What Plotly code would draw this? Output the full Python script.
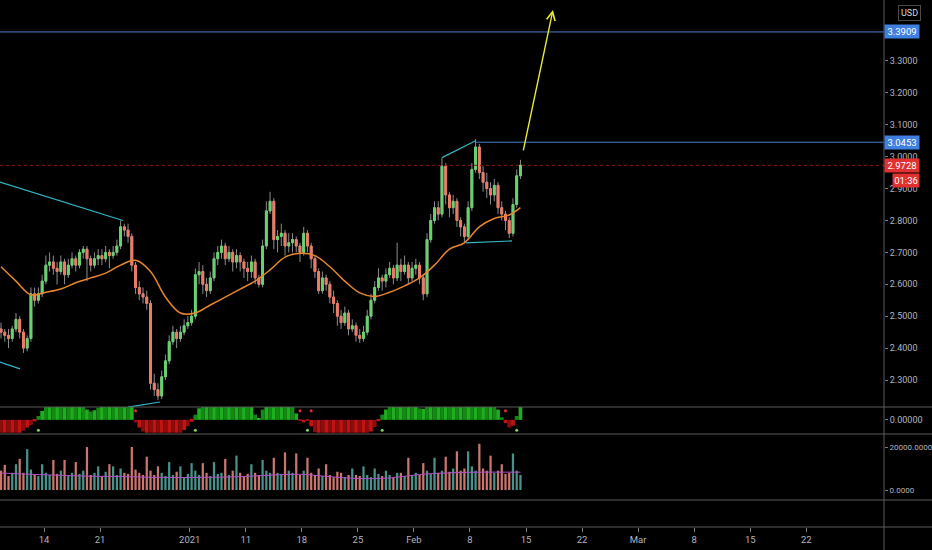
import pandas as pd
import plotly.graph_objects as go

# --- session calendar (weekends + Christmas / New Year are not traded) ---
holidays = ["2020-12-25", "2021-01-01"]
days = [d for d in pd.bdate_range("2020-12-08", "2021-02-12")
        if d.strftime("%Y-%m-%d") not in holidays]
times = [d + pd.Timedelta(hours=h) for d in days for h in (4, 12, 20)][:140]

# --- 8h candles ---
first_open = 2.46
closes = [2.45, 2.44, 2.43, 2.46, 2.49, 2.45, 2.40, 2.43, 2.57, 2.55,
          2.57, 2.61, 2.66, 2.67, 2.65, 2.64, 2.67, 2.63, 2.66, 2.68,
          2.66, 2.70, 2.71, 2.68, 2.66, 2.68, 2.69, 2.68, 2.70, 2.69,
          2.70, 2.72, 2.78, 2.77, 2.75, 2.66, 2.59, 2.57, 2.56, 2.54,
          2.29, 2.27, 2.25, 2.31, 2.36, 2.42, 2.45, 2.43, 2.45, 2.47,
          2.48, 2.50, 2.63, 2.64, 2.60, 2.58, 2.62, 2.68, 2.70, 2.72,
          2.68, 2.70, 2.67, 2.69, 2.67, 2.65, 2.64, 2.67, 2.62, 2.60,
          2.72, 2.83, 2.86, 2.74, 2.75, 2.76, 2.72, 2.73, 2.74, 2.72,
          2.70, 2.76, 2.72, 2.68, 2.64, 2.58, 2.62, 2.60, 2.56, 2.54,
          2.50, 2.48, 2.51, 2.46, 2.47, 2.44, 2.43, 2.45, 2.50, 2.55,
          2.59, 2.62, 2.61, 2.63, 2.65, 2.62, 2.66, 2.64, 2.66, 2.62,
          2.65, 2.66, 2.62, 2.57, 2.74, 2.80, 2.84, 2.82, 2.97, 2.88,
          2.84, 2.86, 2.80, 2.78, 2.75, 2.84, 2.96, 3.03, 2.95, 2.92,
          2.90, 2.88, 2.91, 2.84, 2.82, 2.80, 2.76, 2.85, 2.94, 2.973]
highs = [2.48, 2.46, 2.46, 2.47, 2.51, 2.50, 2.46, 2.44, 2.59, 2.59,
         2.59, 2.63, 2.69, 2.70, 2.69, 2.67, 2.69, 2.68, 2.68, 2.70,
         2.69, 2.71, 2.72, 2.72, 2.69, 2.70, 2.71, 2.71, 2.72, 2.71,
         2.72, 2.74, 2.80, 2.79, 2.79, 2.76, 2.67, 2.61, 2.59, 2.58,
         2.55, 2.32, 2.29, 2.33, 2.38, 2.44, 2.47, 2.46, 2.47, 2.49,
         2.50, 2.52, 2.65, 2.67, 2.66, 2.62, 2.64, 2.70, 2.72, 2.74,
         2.73, 2.72, 2.71, 2.71, 2.70, 2.68, 2.67, 2.69, 2.68, 2.63,
         2.74, 2.86, 2.89, 2.87, 2.77, 2.79, 2.77, 2.76, 2.76, 2.75,
         2.73, 2.78, 2.77, 2.73, 2.69, 2.65, 2.64, 2.63, 2.61, 2.58,
         2.55, 2.52, 2.53, 2.52, 2.49, 2.48, 2.46, 2.47, 2.52, 2.57,
         2.61, 2.65, 2.63, 2.65, 2.67, 2.66, 2.73, 2.68, 2.69, 2.67,
         2.67, 2.68, 2.67, 2.63, 2.76, 2.82, 2.86, 2.86, 2.996, 2.98,
         2.89, 2.88, 2.87, 2.81, 2.79, 2.86, 2.98, 3.055, 3.04, 2.97,
         2.95, 2.92, 2.93, 2.92, 2.86, 2.83, 2.81, 2.87, 2.96, 2.99]
lows = [2.43, 2.42, 2.40, 2.42, 2.45, 2.43, 2.385, 2.39, 2.42, 2.53,
        2.54, 2.56, 2.60, 2.64, 2.63, 2.60, 2.63, 2.60, 2.62, 2.65,
        2.64, 2.65, 2.68, 2.61, 2.64, 2.65, 2.66, 2.66, 2.67, 2.65,
        2.68, 2.69, 2.71, 2.75, 2.73, 2.64, 2.57, 2.55, 2.54, 2.52,
        2.27, 2.25, 2.237, 2.24, 2.30, 2.35, 2.41, 2.40, 2.42, 2.44,
        2.46, 2.47, 2.49, 2.60, 2.57, 2.56, 2.57, 2.61, 2.66, 2.68,
        2.66, 2.67, 2.64, 2.65, 2.64, 2.62, 2.61, 2.62, 2.60, 2.59,
        2.59, 2.71, 2.82, 2.71, 2.70, 2.72, 2.69, 2.70, 2.70, 2.70,
        2.67, 2.69, 2.70, 2.65, 2.62, 2.57, 2.57, 2.58, 2.54, 2.51,
        2.47, 2.46, 2.47, 2.44, 2.45, 2.42, 2.416, 2.42, 2.44, 2.49,
        2.54, 2.58, 2.58, 2.59, 2.62, 2.60, 2.61, 2.61, 2.63, 2.60,
        2.61, 2.63, 2.60, 2.55, 2.56, 2.73, 2.79, 2.80, 2.81, 2.85,
        2.81, 2.82, 2.78, 2.75, 2.73, 2.74, 2.83, 2.95, 2.93, 2.89,
        2.87, 2.85, 2.86, 2.82, 2.80, 2.77, 2.745, 2.75, 2.84, 2.93]
opens = [first_open] + closes[:-1]

# moving average (sampled every 4 candles)
ma_idx = [0, 4, 8, 12, 16, 20, 24, 28, 32, 36, 40, 44, 48, 52, 56, 60, 64, 68,
          72, 76, 80, 84, 88, 92, 96, 100, 104, 108, 112, 116, 120, 124, 128,
          132, 136, 139]
ma_vals = [2.655, 2.61, 2.567, 2.575, 2.585, 2.605, 2.62, 2.635, 2.66, 2.675,
           2.64, 2.56, 2.51, 2.51, 2.535, 2.56, 2.585, 2.61, 2.645, 2.685,
           2.697, 2.69, 2.655, 2.61, 2.573, 2.562, 2.575, 2.595, 2.62, 2.66,
           2.71, 2.73, 2.78, 2.806, 2.817, 2.84]

# oscillator histogram
osc = [-1, -1, -1, -1, -1, -1, -0.85, -0.6, -0.4, -0.12,
       0.3, 0.7, 1, 1, 1, 1, 1, 1, 1, 1,
       1, 1, 1, 0.8, 0.65, 0.75, 0.95, 1, 1, 1,
       1, 1, 1, 1, 1, 1, -0.2, -0.6, -0.9, -1,
       -1, -1, -1, -1, -1, -1, -1, -1, -1, -0.8,
       -0.5, -0.15, 0.4, 0.9, 1, 1, 1, 1, 1, 1,
       1, 1, 1, 1, 1, 1, 1, 1, 0.4, 0.1,
       0.8, 1, 1, 1, 1, 1, 1, 1, 1, 0.5,
       -0.1, -0.2, -0.05, -0.5, -0.95, -1, -1, -1, -1, -1,
       -1, -1, -1, -1, -1, -1, -1, -1, -1, -0.9,
       -0.55, -0.1, 0.4, 0.8, 1, 1, 1, 1, 1, 1,
       1, 1, 0.9, 0.85, 1, 1, 1, 1, 1, 1,
       1, 1, 1, 1, 1, 1, 1, 1, 1, 1,
       1, 1, 1, 0.8, 0.2, -0.25, -0.6, -0.45, 0.3, 1]
green_dots = [10, 52, 82, 102, 138]
red_dots = [36, 80, 83, 135]

# volume
volume = [9000, 11700, 6500, 8000, 12000, 14500, 8000, 19000, 9500, 7000,
          6500, 12000, 8000, 7000, 14000, 7500, 9000, 14000, 6500, 8000,
          13000, 7500, 9000, 20000, 7000, 8000, 11000, 6500, 8500, 12000,
          11000, 7000, 10000, 8000, 7500, 20000, 9500, 8000, 7000, 15500,
          9000, 7000, 11000, 8000, 6500, 13000, 7000, 8500, 11000, 6000,
          7500, 12500, 9000, 7000, 12500, 8000, 6500, 13000, 7500, 8000,
          14500, 7000, 9000, 16000, 8000, 6500, 7500, 12000, 8000, 7000,
          14000, 9000, 8000, 15000, 8000, 7500, 17500, 9000, 8000, 17000,
          7000, 9000, 15000, 8000, 7000, 10000, 6500, 12000, 7000, 6000,
          8500, 8000, 6000, 7000, 10000, 7000, 6500, 11000, 7000, 6000,
          10000, 7500, 6500, 9000, 7000, 6000, 8000, 8000, 6500, 15000,
          7000, 8000, 7000, 12500, 9000, 7500, 15000, 8000, 9000, 15500,
          8500, 10000, 18000, 9000, 10000, 18000, 11000, 9000, 21500, 10000,
          9000, 16000, 8000, 9000, 12000, 7500, 8000, 17000, 9000, 7000]
vma_idx = [0, 8, 16, 24, 32, 40, 48, 56, 64, 72, 80, 88, 96, 104, 112, 120,
           128, 136, 139]
vma_vals = [7900, 7300, 6800, 6400, 6300, 5900, 5800, 5900, 6200, 6900, 7300,
            6200, 5300, 5600, 7200, 8000, 8300, 8300, 8300]

# x axis labels
tick_dates = ["2020-12-14", "2020-12-21", "2021-01-04", "2021-01-11", "2021-01-18",
              "2021-01-25", "2021-02-01", "2021-02-08", "2021-02-15", "2021-02-22",
              "2021-03-01", "2021-03-08", "2021-03-15", "2021-03-22"]
tick_labels = ["14", "21", "2021", "11", "18", "25", "Feb", "8", "15", "22",
               "Mar", "8", "15", "22"]
price_ticks = [2.3, 2.4, 2.5, 2.6, 2.7, 2.8, 2.9, 3.0, 3.1, 3.2, 3.3]

# drawn levels / trendlines
target_level = 3.3909
high_level = 3.0453
last_price = 2.9728
trendlines = [
    (("2020-12-08 01:48", 2.92), ("2020-12-23 01:00", 2.80)),
    (("2020-12-08 01:48", 2.356), ("2020-12-09 20:40", 2.335)),
    (("2020-12-23 11:45", 2.215), ("2020-12-29 08:24", 2.231)),
    (("2021-02-03 12:00", 2.997), ("2021-02-08 12:00", 3.05)),
    (("2021-02-05 15:36", 2.73), ("2021-02-11 18:00", 2.736)),
]
arrow_from = ("2021-02-12 17:30", 3.015)
arrow_to = ("2021-02-17 09:40", 3.46)

X_RANGE = ["2020-12-08 01:48", "2021-03-30 22:20"]
GREEN, RED, WICK = "#66d36e", "#ee7b66", "#8c8c8c"
TEXT, GRID = "#b2b5be", "#5a5a5a"
FONT = "Roboto"
H8 = 8 * 3600 * 1000

fig = go.Figure()

# wicks (full range in grey), then coloured bodies on top
fig.add_trace(go.Candlestick(
    x=times, open=opens, high=highs, low=lows, close=closes,
    increasing=dict(line=dict(color=WICK, width=1), fillcolor=WICK),
    decreasing=dict(line=dict(color=WICK, width=1), fillcolor=WICK),
    hoverinfo="skip"))
fig.add_trace(go.Candlestick(
    x=times, open=opens, close=closes,
    high=[max(o, c) for o, c in zip(opens, closes)],
    low=[min(o, c) for o, c in zip(opens, closes)],
    increasing=dict(line=dict(color=GREEN, width=1), fillcolor=GREEN),
    decreasing=dict(line=dict(color=RED, width=1), fillcolor=RED),
    hoverinfo="skip"))
fig.add_trace(go.Scatter(
    x=[times[i] for i in ma_idx], y=ma_vals, mode="lines",
    line=dict(color="#e8862a", width=1.5, shape="spline"), hoverinfo="skip"))

# oscillator pane
osc_colors = []
for k, v in enumerate(osc):
    if v >= 0:
        osc_colors.append("#1fae1f" if k % 2 else "#138a13")
    else:
        osc_colors.append("#c01414" if k % 2 else "#8e0c0c")
fig.add_trace(go.Bar(x=times, y=osc, yaxis="y2", width=H8,
                     marker=dict(color=osc_colors, line=dict(width=0)),
                     hoverinfo="skip"))
fig.add_trace(go.Scatter(x=[times[i] for i in green_dots], y=[-0.8] * len(green_dots),
                         yaxis="y2", mode="markers",
                         marker=dict(color="#7bd35a", size=3), hoverinfo="skip"))
fig.add_trace(go.Scatter(x=[times[i] for i in red_dots], y=[0.7] * len(red_dots),
                         yaxis="y2", mode="markers",
                         marker=dict(color="#e03030", size=3), hoverinfo="skip"))

# volume pane
vol_colors = ["#4fa39b" if c >= o else "#e0837a" for o, c in zip(opens, closes)]
fig.add_trace(go.Bar(x=times, y=volume, yaxis="y3", width=H8 * 0.6,
                     marker=dict(color=vol_colors, line=dict(width=0)),
                     opacity=0.9, hoverinfo="skip"))
fig.add_trace(go.Scatter(
    x=[times[i] for i in vma_idx], y=vma_vals, yaxis="y3", mode="lines",
    line=dict(color="#b24fc8", width=1, shape="spline"), hoverinfo="skip"))

# empty bottom pane (keeps the axis layout)
fig.add_trace(go.Scatter(x=[times[0]], y=[0.5], yaxis="y4", mode="markers",
                         marker=dict(opacity=0), hoverinfo="skip"))

shapes = []
shapes.append(dict(type="line", xref="paper", x0=0, x1=1, yref="y",
                   y0=target_level, y1=target_level,
                   line=dict(color="#4a7fd0", width=1)))
shapes.append(dict(type="line", xref="x", x0="2021-02-08 13:00", x1=X_RANGE[1],
                   yref="y", y0=high_level, y1=high_level,
                   line=dict(color="#4a7fd0", width=1)))
shapes.append(dict(type="line", xref="paper", x0=0, x1=1, yref="y",
                   y0=last_price, y1=last_price,
                   line=dict(color="#8b1c1c", width=1, dash="dot")))
for (xa, ya), (xb, yb) in trendlines:
    shapes.append(dict(type="line", xref="x", yref="y", x0=xa, y0=ya, x1=xb, y1=yb,
                       line=dict(color="#33b7c6", width=1.2)))
# pane separators and price-scale border
for yp in (0.2277, 0.17647, 0.05123, 0.0):
    shapes.append(dict(type="line", xref="paper", yref="paper", x0=0, x1=1.0543,
                       y0=yp, y1=yp, line=dict(color=GRID, width=1)))
shapes.append(dict(type="line", xref="paper", yref="paper", x0=1, x1=1,
                   y0=-0.0437, y1=1, line=dict(color=GRID, width=1)))

annotations = [
    dict(x=arrow_to[0], y=arrow_to[1], ax=arrow_from[0], ay=arrow_from[1],
         xref="x", yref="y", axref="x", ayref="y", text="", showarrow=True,
         arrowhead=5, arrowsize=1.2, arrowwidth=1.4, arrowcolor="#e9e93a"),
]
label_font = dict(family=FONT, size=9.5, color="#ffffff")
for val, txt, bg in ((target_level, "3.3909", "#3f7fe0"),
                     (high_level, "3.0453", "#3f7fe0"),
                     (last_price, "2.9728", "#e0302f")):
    annotations.append(dict(xref="paper", x=1, xanchor="left", yref="y", y=val,
                            text=txt, showarrow=False, bgcolor=bg, width=32,
                            borderpad=1, font=label_font))
annotations.append(dict(xref="paper", x=1, xanchor="left", xshift=8, yref="y",
                        y=last_price, yshift=-15, text="01:36", showarrow=False,
                        bgcolor="#e0302f", width=24, borderpad=1, font=label_font))
annotations.append(dict(xref="paper", x=1.0283, xanchor="center",
                        yref="paper", y=0.9753, yanchor="middle",
                        text="USD", showarrow=False, bordercolor="#4a4a4a",
                        borderwidth=1, borderpad=2,
                        font=dict(family=FONT, size=9, color="#d1d4dc")))

axis_common = dict(side="right", anchor="x", showgrid=False, zeroline=False,
                   ticks="outside", ticklen=3, tickcolor="#787b86",
                   showline=False, automargin=False)
tick_font = dict(family=FONT, color=TEXT, size=9)

fig.update_layout(
    width=932, height=550,
    paper_bgcolor="#000000", plot_bgcolor="#000000",
    margin=dict(l=0, r=48, t=0, b=23, autoexpand=False),
    showlegend=False,
    barmode="overlay",
    font=dict(family=FONT, size=9, color=TEXT),
    xaxis=dict(type="date", range=X_RANGE, anchor="y4", automargin=False,
               rangebreaks=[dict(bounds=["sat", "mon"]), dict(values=holidays)],
               rangeslider=dict(visible=False),
               tickvals=tick_dates, ticktext=tick_labels,
               ticks="outside", ticklen=4, tickcolor="#787b86",
               showgrid=False, zeroline=False, showline=False,
               tickfont=dict(family=FONT, color=TEXT, size=9.5)),
    yaxis=dict(domain=[0.2277, 1], range=[2.2154, 3.491], tickfont=tick_font,
               tickvals=price_ticks, tickformat=".4f", **axis_common),
    yaxis2=dict(domain=[0.17647, 0.2277], range=[-1.1, 1.0], tickfont=tick_font,
                tickvals=[0], ticktext=["0.00000"], **axis_common),
    yaxis3=dict(domain=[0.05123, 0.17647], range=[-4650, 26050],
                tickfont=dict(family=FONT, color=TEXT, size=8),
                tickvals=[0, 20000], tickformat=".4f", **axis_common),
    yaxis4=dict(domain=[0, 0.05123], range=[0, 1], side="right", anchor="x",
                automargin=False, showgrid=False, zeroline=False,
                showticklabels=False, ticks=""),
    shapes=shapes,
    annotations=annotations,
)

# drop the browser's default page margin so the chart fills the window
fig.write_html("out.html", config={"displayModeBar": False},
               post_script="document.body.style.margin='0';"
                           "document.body.style.background='#000';")
